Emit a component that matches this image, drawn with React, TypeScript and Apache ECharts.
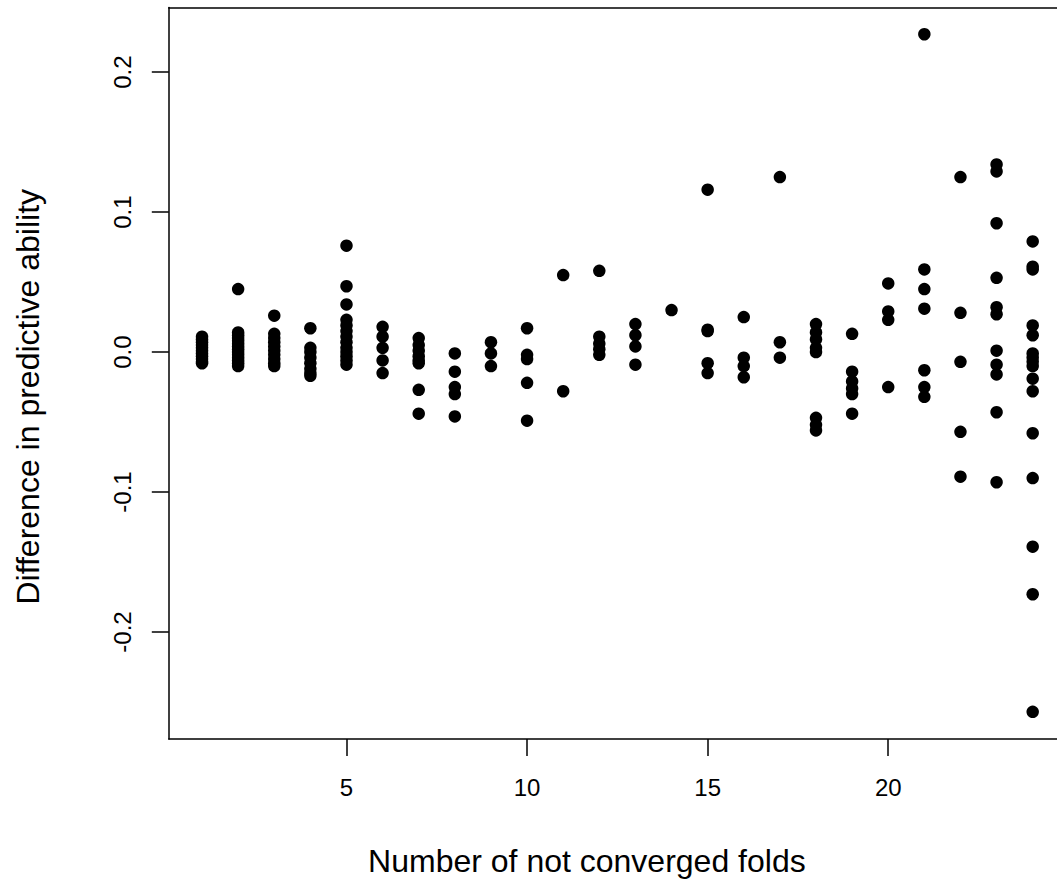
import React, { useEffect, useRef } from "react";
import * as echarts from "echarts";

// Number of not converged folds (x) and the differences observed for each
const folds: number[] = [1, 2, 3, 4, 5, 6, 7, 8, 9, 10, 11, 12, 13, 14, 15, 16, 17, 18, 19, 20, 21, 22, 23, 24];

const diffs: number[][] = [
  [0.011, 0.009, 0.007, 0.005, 0.003, 0.001, -0.001, -0.003, -0.005, -0.007, -0.008],
  [0.045, 0.014, 0.012, 0.010, 0.008, 0.006, 0.004, 0.002, 0.000, -0.002, -0.004, -0.006, -0.008, -0.010],
  [0.026, 0.013, 0.010, 0.007, 0.004, 0.001, -0.002, -0.005, -0.008, -0.010],
  [0.017, 0.003, 0.000, -0.004, -0.008, -0.012, -0.015, -0.017],
  [0.076, 0.047, 0.034, 0.023, 0.019, 0.015, 0.011, 0.007, 0.003, 0.000, -0.003, -0.006, -0.009],
  [0.018, 0.011, 0.003, -0.006, -0.015],
  [0.010, 0.005, 0.001, -0.003, -0.006, -0.008, -0.027, -0.044],
  [-0.001, -0.014, -0.025, -0.030, -0.046],
  [0.007, -0.001, -0.010],
  [0.017, -0.002, -0.005, -0.022, -0.049],
  [0.055, -0.028],
  [0.058, 0.011, 0.006, 0.002, -0.002],
  [0.020, 0.012, 0.004, -0.009],
  [0.030],
  [0.116, 0.016, 0.015, -0.008, -0.015],
  [0.025, -0.004, -0.010, -0.018],
  [0.125, 0.007, -0.004],
  [0.020, 0.014, 0.009, 0.003, 0.000, -0.047, -0.052, -0.056],
  [0.013, -0.014, -0.021, -0.026, -0.030, -0.044],
  [0.049, 0.029, 0.023, -0.025],
  [0.227, 0.059, 0.045, 0.031, -0.013, -0.025, -0.032],
  [0.125, 0.028, -0.007, -0.057, -0.089],
  [0.134, 0.129, 0.092, 0.053, 0.032, 0.027, 0.001, -0.009, -0.016, -0.043, -0.093],
  [0.079, 0.061, 0.059, 0.019, 0.012, -0.001, -0.004, -0.007, -0.010, -0.019, -0.028, -0.058, -0.090, -0.139, -0.173, -0.257],
];

const xTicks: number[] = [5, 10, 15, 20];
const yTicks: number[] = [-0.2, -0.1, 0.0, 0.1, 0.2];

const xTitle = "Number of not converged folds";
const yTitle = "Difference in predictive ability";

const FONT = "'Liberation Sans', Arial, Helvetica, sans-serif";

export default function App() {
  const ref = useRef<HTMLDivElement>(null);

  useEffect(() => {
    if (!ref.current) return;
    const chart = echarts.init(ref.current, null, { renderer: "svg" });

    const points: number[][] = [];
    folds.forEach((f, i) => {
      diffs[i].forEach((v) => points.push([f, v]));
    });

    const X_MIN = 0.08;
    const X_MAX = 24.673; // plot region is cut off at the right edge of the picture
    const lineStyle = { color: "#000", width: 1.5 };

    chart.setOption({
      animation: false,
      backgroundColor: "#ffffff",
      grid: {
        left: 168.8,
        right: 0,
        top: 7.5,
        bottom: 143,
        show: false,
      },
      xAxis: [
        {
          type: "value",
          position: "bottom",
          min: X_MIN,
          max: X_MAX,
          name: xTitle,
          nameLocation: "middle",
          nameGap: 106,
          nameTextStyle: {
            fontFamily: FONT,
            fontSize: 32,
            color: "#000",
            padding: [0, 52, 0, 0],
          },
          axisLine: { show: true, onZero: false, lineStyle },
          splitLine: { show: false },
          axisTick: {
            show: true,
            inside: false,
            length: 17,
            customValues: xTicks,
            lineStyle,
          },
          axisLabel: {
            customValues: xTicks,
            margin: 36,
            fontFamily: FONT,
            fontSize: 24,
            color: "#000",
          },
        },
        {
          type: "value",
          position: "top",
          min: X_MIN,
          max: X_MAX,
          axisLine: { show: true, onZero: false, lineStyle },
          axisTick: { show: false },
          axisLabel: { show: false },
          splitLine: { show: false },
        },
      ],
      yAxis: {
        type: "value",
        min: -0.2764,
        max: 0.2461,
        name: yTitle,
        nameLocation: "middle",
        nameGap: 125,
        nameTextStyle: {
          fontFamily: FONT,
          fontSize: 32,
          color: "#000",
          padding: [0, 47, 0, 0],
        },
        axisLine: { show: true, onZero: false, lineStyle },
        splitLine: { show: false },
        axisTick: {
          show: true,
          inside: false,
          length: 17,
          customValues: yTicks,
          lineStyle,
        },
        axisLabel: {
          customValues: yTicks,
          rotate: 90,
          margin: 34,
          fontFamily: FONT,
          fontSize: 24,
          color: "#000",
          formatter: (v: number) => (Math.abs(v) < 1e-9 ? "0.0" : v.toFixed(1)),
        },
      },
      series: [
        {
          type: "scatter",
          xAxisIndex: 0,
          data: points,
          symbol: "circle",
          symbolSize: 12.5,
          itemStyle: { color: "#000", opacity: 1 },
        },
      ],
    });

    return () => chart.dispose();
  }, []);

  return (
    <div
      ref={ref}
      style={{ position: "fixed", left: 0, top: 0, width: 1057, height: 882 }}
    />
  );
}
